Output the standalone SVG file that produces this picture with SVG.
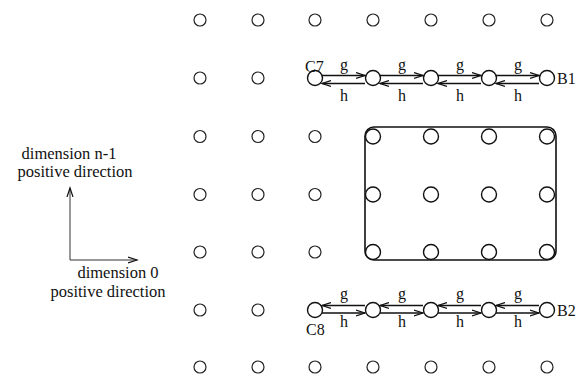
<svg xmlns="http://www.w3.org/2000/svg" width="586" height="378" viewBox="0 0 586 378">
  <style>
    .node { fill: #fff; stroke: #222; stroke-width: 1.2; }
    .big { fill: #fff; stroke: #111; stroke-width: 1.4; }
    .lbl { font-family: "Liberation Serif", "Times New Roman", serif; font-size: 16px; fill: #111; }
    .axis-lbl { font-family: "Liberation Serif", "Times New Roman", serif; font-size: 16.5px; fill: #111; text-anchor: middle; }
    .edge { stroke: #111; stroke-width: 1.3; fill: none; marker-end: url(#head); }
    .axis { stroke: #333; stroke-width: 1; fill: none; marker-end: url(#head); }
    .box { fill: none; stroke: #111; stroke-width: 1.6; }
  </style>
  <defs>
    <marker id="head" markerUnits="userSpaceOnUse" markerWidth="12" markerHeight="8" refX="9" refY="4" orient="auto">
      <path d="M0,1 L9,4 L0,7" fill="none" stroke="#111" stroke-width="1.2"/>
    </marker>
  </defs>

  <rect id="region" class="box" x="365" y="127" width="191" height="133" rx="9"/>

  <!-- plain grid nodes -->
  <g id="grid">
    <g id="r1">
      <circle class="node" cx="200" cy="20" r="6"/>
      <circle class="node" cx="258" cy="20" r="6"/>
      <circle class="node" cx="315" cy="20" r="6"/>
      <circle class="node" cx="373" cy="20" r="6"/>
      <circle class="node" cx="431" cy="20" r="6"/>
      <circle class="node" cx="489" cy="20" r="6"/>
      <circle class="node" cx="547" cy="20" r="6"/>
    </g>
    <g id="r2">
      <circle class="node" cx="200" cy="78" r="6"/>
      <circle class="node" cx="258" cy="78" r="6"/>
    </g>
    <g id="r3">
      <circle class="node" cx="200" cy="136.5" r="6"/>
      <circle class="node" cx="258" cy="136.5" r="6"/>
      <circle class="node" cx="315" cy="136.5" r="6"/>
    </g>
    <g id="r4">
      <circle class="node" cx="200" cy="194.5" r="6"/>
      <circle class="node" cx="258" cy="194.5" r="6"/>
      <circle class="node" cx="315" cy="194.5" r="6"/>
    </g>
    <g id="r5">
      <circle class="node" cx="200" cy="252" r="6"/>
      <circle class="node" cx="258" cy="252" r="6"/>
      <circle class="node" cx="315" cy="252" r="6"/>
    </g>
    <g id="r6">
      <circle class="node" cx="200" cy="310" r="6"/>
      <circle class="node" cx="258" cy="310" r="6"/>
    </g>
    <g id="r7">
      <circle class="node" cx="200" cy="367" r="6"/>
      <circle class="node" cx="258" cy="367" r="6"/>
      <circle class="node" cx="315" cy="367" r="6"/>
      <circle class="node" cx="373" cy="367" r="6"/>
      <circle class="node" cx="431" cy="367" r="6"/>
      <circle class="node" cx="489" cy="367" r="6"/>
      <circle class="node" cx="547" cy="367" r="6"/>
    </g>
  </g>

  <!-- nodes inside the rounded region -->
  <g id="block">
    <circle class="big" cx="373" cy="136.5" r="7.5"/>
    <circle class="big" cx="431" cy="136.5" r="7.5"/>
    <circle class="big" cx="489" cy="136.5" r="7.5"/>
    <circle class="big" cx="547" cy="136.5" r="7.5"/>
    <circle class="big" cx="373" cy="194.5" r="7.5"/>
    <circle class="big" cx="431" cy="194.5" r="7.5"/>
    <circle class="big" cx="489" cy="194.5" r="7.5"/>
    <circle class="big" cx="547" cy="194.5" r="7.5"/>
    <circle class="big" cx="373" cy="252" r="7.5"/>
    <circle class="big" cx="431" cy="252" r="7.5"/>
    <circle class="big" cx="489" cy="252" r="7.5"/>
    <circle class="big" cx="547" cy="252" r="7.5"/>
  </g>

  <!-- upper chain C7 ... B1 -->
  <g id="C7"><circle class="big" cx="315" cy="78" r="7.5"/><text class="lbl" x="305" y="72">C7</text></g>
  <g id="u2"><circle class="big" cx="373" cy="78" r="7.5"/></g>
  <g id="u3"><circle class="big" cx="431" cy="78" r="7.5"/></g>
  <g id="u4"><circle class="big" cx="489" cy="78" r="7.5"/></g>
  <g id="B1"><circle class="big" cx="547" cy="78" r="7.5"/><text class="lbl" x="557" y="84">B1</text></g>

  <!-- lower chain C8 ... B2 -->
  <g id="C8"><circle class="big" cx="315" cy="310" r="7.5"/><text class="lbl" x="306" y="335">C8</text></g>
  <g id="l2"><circle class="big" cx="373" cy="310" r="7.5"/></g>
  <g id="l3"><circle class="big" cx="431" cy="310" r="7.5"/></g>
  <g id="l4"><circle class="big" cx="489" cy="310" r="7.5"/></g>
  <g id="B2"><circle class="big" cx="547" cy="310" r="7.5"/><text class="lbl" x="557" y="316">B2</text></g>

  <!-- connectors -->
  <g id="connectors">
    <!-- upper: g forward (right), h back (left) -->
    <path class="edge" d="M322,75.5 H365"/>
    <path class="edge" d="M365,83.5 H322"/>
    <path class="edge" d="M380,75.5 H423"/>
    <path class="edge" d="M423,83.5 H380"/>
    <path class="edge" d="M438,75.5 H481"/>
    <path class="edge" d="M481,83.5 H438"/>
    <path class="edge" d="M496,75.5 H539"/>
    <path class="edge" d="M539,83.5 H496"/>
    <!-- lower: g back (left), h forward (right) -->
    <path class="edge" d="M365,305.5 H322"/>
    <path class="edge" d="M322,313 H365"/>
    <path class="edge" d="M423,305.5 H380"/>
    <path class="edge" d="M380,313 H423"/>
    <path class="edge" d="M481,305.5 H438"/>
    <path class="edge" d="M438,313 H481"/>
    <path class="edge" d="M539,305.5 H496"/>
    <path class="edge" d="M496,313 H539"/>
  </g>

  <!-- edge labels -->
  <g id="edge-labels" class="lbl" text-anchor="middle">
    <text x="344" y="70">g</text><text x="402" y="70">g</text><text x="460" y="70">g</text><text x="518" y="70">g</text>
    <text x="344" y="101">h</text><text x="402" y="101">h</text><text x="460" y="101">h</text><text x="518" y="101">h</text>
    <text x="344" y="299">g</text><text x="402" y="299">g</text><text x="460" y="299">g</text><text x="518" y="299">g</text>
    <text x="344" y="327">h</text><text x="402" y="327">h</text><text x="460" y="327">h</text><text x="518" y="327">h</text>
  </g>

  <!-- direction key -->
  <g id="key">
    <path class="axis" d="M70,260 V188"/>
    <path class="axis" d="M70,260 H137"/>
    <text class="axis-lbl" x="69" y="159">dimension n-1</text>
    <text class="axis-lbl" x="75" y="177">positive direction</text>
    <text class="axis-lbl" x="118" y="278">dimension 0</text>
    <text class="axis-lbl" x="108" y="297">positive direction</text>
  </g>
</svg>
